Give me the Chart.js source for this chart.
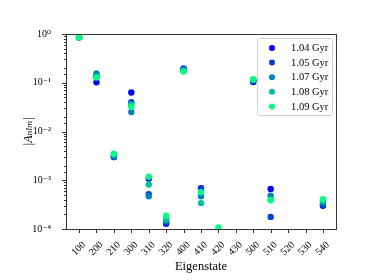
<!DOCTYPE html>
<html>
<head>
<meta charset="utf-8">
<script src="https://cdn.jsdelivr.net/npm/chart.js@4.4.1/dist/chart.umd.min.js"></script>
<style>
  html, body { margin: 0; padding: 0; background: #fff; }
  #wrap { width: 374px; height: 280px; }
</style>
</head>
<body>
<div id="wrap"><canvas id="modeChart" width="374" height="280"></canvas></div>
<script>
const categories = ['100', '200', '210', '300', '310', '320', '400', '410', '420', '430', '500', '510', '520', '530', '540'];
const seriesLabels = ['1.04 Gyr', '1.05 Gyr', '1.07 Gyr', '1.08 Gyr', '1.09 Gyr'];
const gyr104 = [0.86, 0.102, 0.0030, 0.063, 0.00108, 0.000128, 0.195, 0.00069, null, null, 0.104, 0.00066, null, null, 0.00030];
const gyr105 = [0.86, 0.140, 0.0030, 0.040, 0.00052, 0.000135, 0.195, 0.00068, null, null, 0.110, 0.000177, null, null, 0.00031];
const gyr107 = [0.86, 0.155, 0.0031, 0.025, 0.00047, 0.000148, 0.185, 0.00047, null, null, 0.112, 0.00048, null, null, 0.00034];
const gyr108 = [0.86, 0.131, 0.0034, 0.036, 0.00082, 0.000158, 0.175, 0.00034, null, null, 0.115, 0.00040, null, null, 0.00038];
const gyr109 = [0.86, 0.128, 0.0035, 0.032, 0.00118, 0.000188, 0.170, 0.00057, 0.000108, null, 0.118, 0.00039, null, null, 0.00041];
const yTickLabels = { '1': '10⁰', '0.1': '10⁻¹', '0.01': '10⁻²', '0.001': '10⁻³', '0.0001': '10⁻⁴' };

const allSeries = [gyr104, gyr105, gyr107, gyr108, gyr109];
const colors = ['#0000ff', '#0040df', '#0080bf', '#00bf9f', '#00ff80'];
const serif = "'Liberation Serif', 'DejaVu Serif', serif";

// box round the axes, minor ticks and the legend, drawn like matplotlib
const frameAndLegend = {
    id: 'frameAndLegend',
    afterDraw(chart) {
        const c = chart.ctx;
        const a = chart.chartArea;
        c.save();
        c.strokeStyle = '#333';
        c.lineWidth = 1;
        c.strokeRect(a.left + 0.5, a.top + 0.5, a.right - a.left, a.bottom - a.top);

        // y ticks (major + minor)
        const ys = chart.scales.y;
        ys.ticks.forEach(t => {
            const py = Math.round(ys.getPixelForValue(t.value)) + 0.5;
            const major = yTickLabels[String(t.value)] !== undefined;
            c.beginPath();
            c.moveTo(a.left, py);
            c.lineTo(a.left - (major ? 4 : 2), py);
            c.stroke();
        });
        // x ticks
        const xs = chart.scales.x;
        categories.forEach((_, i) => {
            const px = Math.round(xs.getPixelForValue(i)) + 0.5;
            c.beginPath();
            c.moveTo(px, a.bottom);
            c.lineTo(px, a.bottom + 4);
            c.stroke();
        });

        // legend
        const lx = 257, ly = 38, lw = 75, lh = 77;
        c.fillStyle = 'rgba(255,255,255,0.8)';
        c.strokeStyle = '#d0d0d0';
        c.beginPath();
        c.roundRect(lx + 0.5, ly + 0.5, lw, lh, 2);
        c.fill();
        c.stroke();
        c.font = '10.5px ' + serif;
        c.textBaseline = 'middle';
        c.textAlign = 'left';
        chart.data.datasets.forEach((ds, i) => {
            const ry = ly + 10 + i * 14.6;
            c.fillStyle = ds.backgroundColor;
            c.beginPath();
            c.arc(272, ry, 3, 0, Math.PI * 2);
            c.fill();
            c.fillStyle = '#000';
            c.fillText(ds.label, 291, ry + 0.5);
        });
        c.restore();
    }
};

new Chart(document.getElementById('modeChart').getContext('2d'), {
    type: 'scatter',
    data: {
        datasets: allSeries.map((vals, i) => ({
            label: seriesLabels[i],
            data: vals.map((v, k) => ({ x: k, y: v })).filter(p => p.y !== null),
            backgroundColor: colors[i],
            borderColor: colors[i],
            pointRadius: 3.2,
            pointHoverRadius: 3.2,
            borderWidth: 0,
            order: allSeries.length - i,
            clip: 6
        }))
    },
    options: {
        responsive: false,
        animation: false,
        layout: { padding: { top: 34, right: 38, left: 0, bottom: 0 } },
        plugins: {
            legend: { display: false },
            tooltip: { enabled: false }
        },
        scales: {
            x: {
                type: 'linear',
                min: -0.75,
                max: 14.75,
                afterFit: s => { s.height = 51; },
                afterBuildTicks: s => { s.ticks = categories.map((_, i) => ({ value: i })); },
                grid: { display: false },
                border: { display: false },
                ticks: {
                    autoSkip: false,
                    minRotation: 45,
                    maxRotation: 45,
                    labelOffset: 5,
                    padding: 2,
                    color: '#000',
                    font: { family: serif, size: 10 },
                    callback: v => categories[v]
                },
                title: {
                    display: true,
                    text: 'Eigenstate',
                    color: '#000',
                    font: { family: serif, size: 12.5 },
                    padding: { top: 0, bottom: 6 }
                }
            },
            y: {
                type: 'logarithmic',
                min: 0.0001,
                max: 1,
                afterFit: s => { s.width = 66; },
                grid: { display: false },
                border: { display: false },
                ticks: {
                    autoSkip: false,
                    padding: 7,
                    color: '#000',
                    font: { family: serif, size: 10 },
                    callback: v => yTickLabels[String(v)] || ''
                },
                title: {
                    display: true,
                    text: '|Aₙₗₘ|',
                    color: '#000',
                    font: { family: serif, size: 12, style: 'italic' },
                    padding: { top: 22, bottom: 0 }
                }
            }
        }
    },
    plugins: [frameAndLegend]
});
</script>
</body>
</html>
